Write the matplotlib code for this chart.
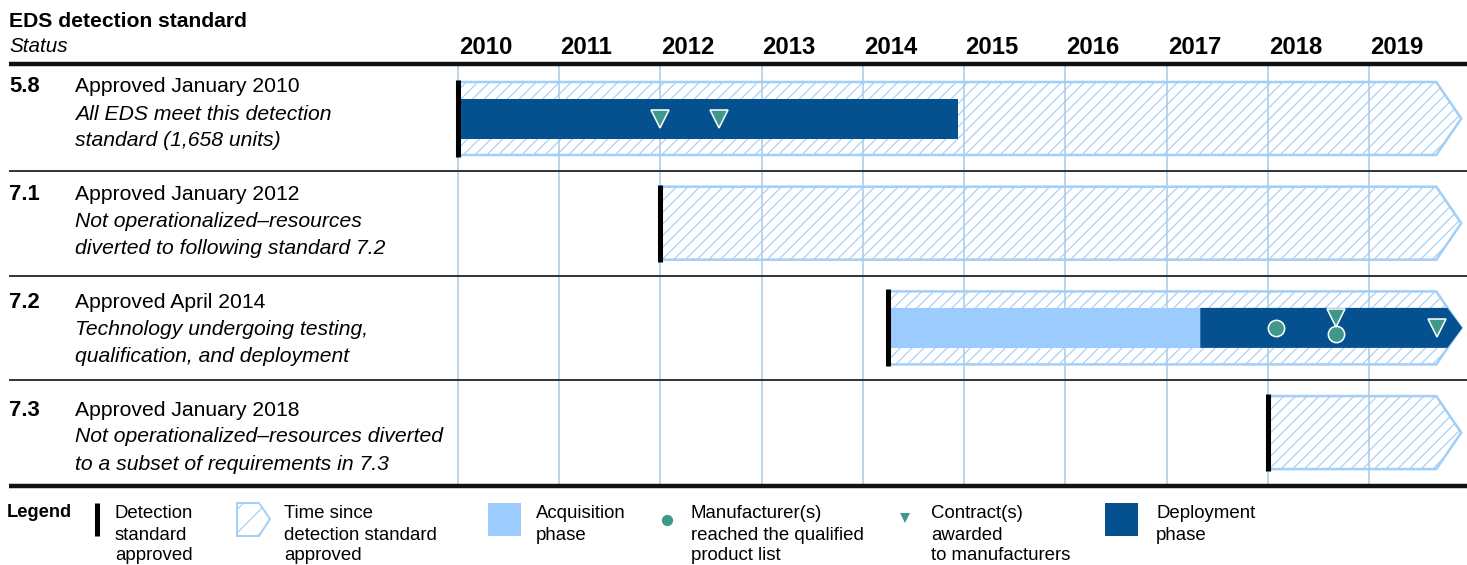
import matplotlib.pyplot as plt
from matplotlib.patches import Polygon, Rectangle

plt.rcParams['font.family'] = ['Liberation Sans', 'DejaVu Sans']
plt.rcParams['hatch.linewidth'] = 0.6

W, H, DPI = 1467, 565, 140

# ---- data (dates as decimal years) ----
years = list(range(2010, 2020))
standards = ['5.8', '7.1', '7.2', '7.3']
approved_text = ['Approved January 2010', 'Approved January 2012',
                 'Approved April 2014', 'Approved January 2018']
status_text = ['All EDS meet this detection\nstandard (1,658 units)',
               'Not operationalized\u2013resources\ndiverted to following standard 7.2',
               'Technology undergoing testing,\nqualification, and deployment',
               'Not operationalized\u2013resources diverted\nto a subset of requirements in 7.3']
approved_at = [2010.0, 2012.0, 2014.25, 2018.0]
timeline_end = 2019.66
acq_start = [None, None, 2014.25, None]
acq_end = [None, None, 2017.33, None]
deploy_start = [2010.0, None, 2017.33, None]
deploy_end = [2014.94, None, 2019.77, None]
deploy_ongoing = [False, False, True, False]
qpl_dates = [[], [], [2018.08, 2018.67], []]
contract_dates = [[2012.0, 2012.58], [], [2018.67, 2019.67], []]

# ---- colours ----
dark = '#05508F'
light = '#9BCCFD'
hatch_c = '#A2CFF8'
grid_c = '#BDD4E9'
teal = '#3F998B'

# pixel layout
px_per_year = 101.3
x2010 = 457.7
row_y = [118.5 + i * 104.7 for i in range(4)]
text_base = [92.5, 200, 308, 415.5]
box_h, bar_h, tick_h = 36.5, 20, 38.5
tip = 25 / px_per_year
bar_tip = 15 / px_per_year

fig = plt.figure(figsize=(W / DPI, H / DPI), dpi=DPI)
ax = fig.add_axes([0, 0, 1, 1])
ax.set_xlim(2010 - x2010 / px_per_year, 2010 + (W - x2010) / px_per_year)
ax.set_ylim(H, 0)
ax.axis('off')
lay = fig.add_axes([0, 0, 1, 1])
lay.set_xlim(0, W)
lay.set_ylim(H, 0)
lay.axis('off')

# year gridlines + labels
ax.vlines(years, 63.5, 485, color=grid_c, lw=1.0, zorder=1)
for yr in years:
    ax.text(yr + 0.01, 54, str(yr), fontsize=12.3, fontweight='bold',
            ha='left', va='baseline')

# header
lay.text(9, 26.7, 'EDS detection standard', fontsize=10.9, fontweight='bold', va='baseline')
lay.text(9, 51.7, 'Status', fontsize=10.6, style='italic', va='baseline')

# rules
lay.hlines([63.5, 486], 9, W, color='#111111', lw=2.3)
lay.hlines([row_y[i] + 52.5 for i in range(3)], 9, W, color='#333333', lw=1.0)

for i, yc in enumerate(row_y):
    # time since approval (hatched arrow)
    x0 = approved_at[i]
    pts = [(x0, yc - box_h), (timeline_end, yc - box_h), (timeline_end + tip, yc),
           (timeline_end, yc + box_h), (x0, yc + box_h)]
    ax.add_patch(Polygon(pts, closed=True, fill=False, hatch='////',
                         edgecolor=hatch_c, lw=1.3, zorder=2))
    if acq_start[i] is not None:
        ax.add_patch(Rectangle((acq_start[i], yc - bar_h), acq_end[i] - acq_start[i],
                               2 * bar_h, facecolor=light, edgecolor='none', zorder=3))
    if deploy_start[i] is not None:
        s, e = deploy_start[i], deploy_end[i]
        if deploy_ongoing[i]:
            pts = [(s, yc - bar_h), (e, yc - bar_h), (e + bar_tip, yc),
                   (e, yc + bar_h), (s, yc + bar_h)]
        else:
            pts = [(s, yc - bar_h), (e, yc - bar_h), (e, yc + bar_h), (s, yc + bar_h)]
        ax.add_patch(Polygon(pts, closed=True, facecolor=dark, edgecolor='none', zorder=3))
    ax.vlines(x0, yc - tick_h, yc + tick_h, color='black', lw=2.6, zorder=5)

    # markers; nudge apart where a circle and a triangle share a date
    for d in qpl_dates[i]:
        off = 6 if d in contract_dates[i] else 0
        ax.plot(d, yc + off, 'o', ms=8.4, color=teal, mec='white', mew=0.8, zorder=6)
    for d in contract_dates[i]:
        off = -10 if d in qpl_dates[i] else 0
        ax.plot(d, yc + off, 'v', ms=9, color=teal, mec='white', mew=0.8, zorder=6)

    # left text
    b = text_base[i]
    lay.text(9, b, standards[i], fontsize=11.3, fontweight='bold', va='baseline')
    lay.text(75, b, approved_text[i], fontsize=10.9, va='baseline')
    for k, line in enumerate(status_text[i].split('\n')):
        lay.text(75, b + 27 * (k + 1), line, fontsize=10.9, style='italic', va='baseline')

# legend
def legend_text(x, s):
    for k, line in enumerate(s.split('\n')):
        lay.text(x, 518.5 + 21 * k, line, fontsize=9.6, va='baseline')

lay.text(7, 516.7, 'Legend', fontsize=9.4, fontweight='bold', va='baseline')
lay.vlines(97, 503, 536, color='black', lw=2.6)
legend_text(115, 'Detection\nstandard\napproved')
lay.add_patch(Polygon([(237, 503), (259, 503), (270, 519), (259, 536), (237, 536)],
                      closed=True, fill=False, hatch='//', edgecolor=hatch_c, lw=1.0))
legend_text(284, 'Time since\ndetection standard\napproved')
lay.add_patch(Rectangle((488, 503), 33, 33, facecolor=light, edgecolor='none'))
legend_text(536, 'Acquisition\nphase')
lay.plot(667, 520, 'o', ms=5.8, color=teal, mec='none')
legend_text(691, 'Manufacturer(s)\nreached the qualified\nproduct list')
lay.plot(905, 518, 'v', ms=5.5, color=teal, mec='none')
legend_text(931, 'Contract(s)\nawarded\nto manufacturers')
lay.add_patch(Rectangle((1105, 503), 33, 33, facecolor=dark, edgecolor='none'))
legend_text(1156, 'Deployment\nphase')

fig.savefig('out.png', dpi=DPI)
